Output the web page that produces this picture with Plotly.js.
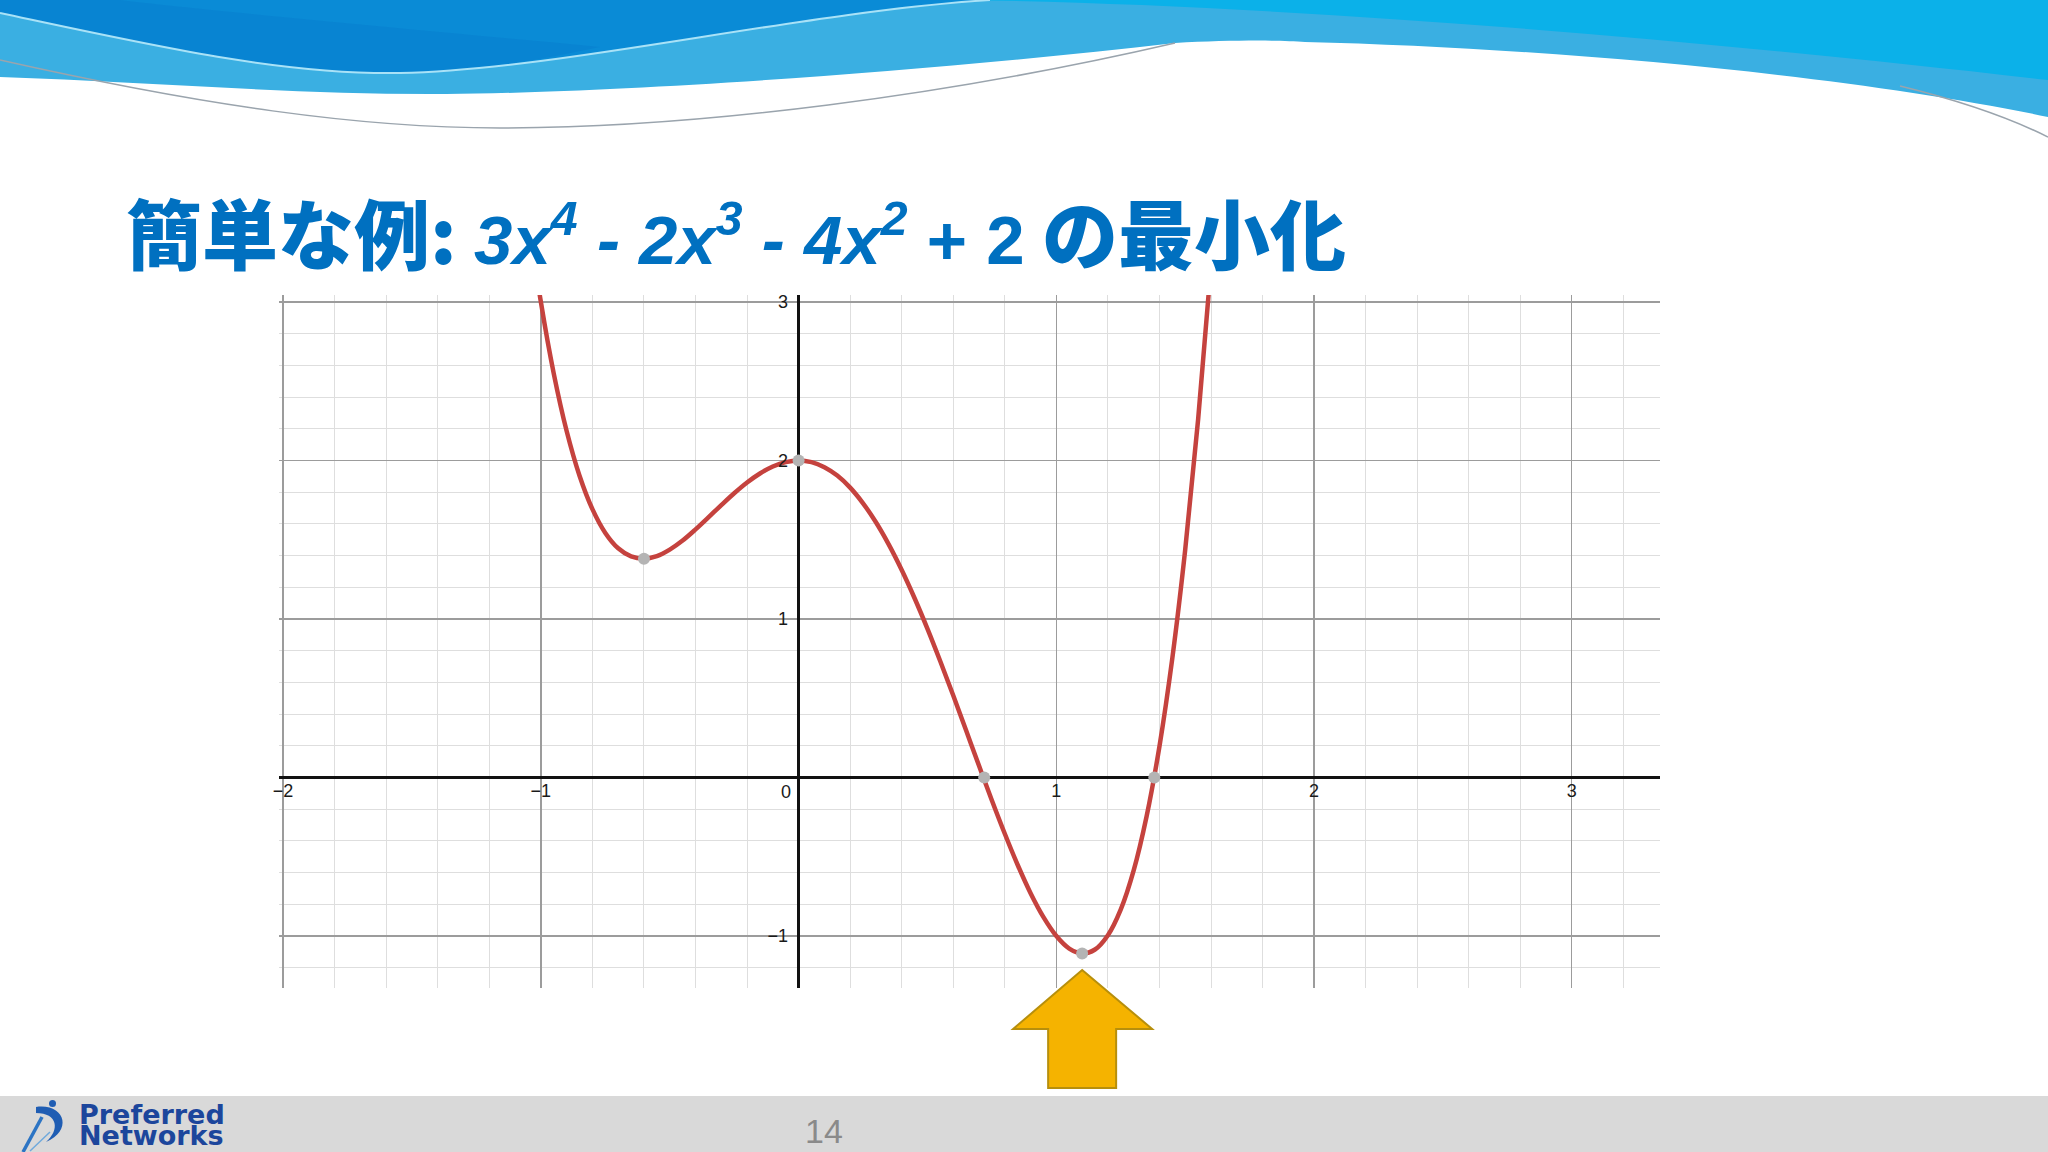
<!DOCTYPE html>
<html><head><meta charset="utf-8">
<script src="https://cdn.plot.ly/plotly-3.0.1.min.js"></script>
<style>html,body{margin:0;padding:0;background:#fff;overflow:hidden}#chart{width:2048px;height:1152px}</style>
</head><body><div id="chart"></div>
<script>
// ---- data ----
const curveX = [-1.05,-1.00,-0.95,-0.90,-0.85,-0.80,-0.75,-0.70,-0.65,-0.60,-0.55,-0.50,-0.45,-0.40,-0.35,-0.30,-0.25,-0.20,-0.15,-0.10,-0.05,0.00,0.05,0.10,0.15,0.20,0.25,0.30,0.35,0.40,0.45,0.50,0.55,0.60,0.65,0.70,0.75,0.80,0.85,0.90,0.95,1.00,1.05,1.10,1.15,1.20,1.25,1.30,1.35,1.40,1.45,1.50,1.55,1.60,1.65];
const curveY = [3.552,3.000,2.548,2.186,1.904,1.693,1.543,1.446,1.395,1.381,1.397,1.438,1.495,1.565,1.641,1.718,1.793,1.861,1.918,1.962,1.990,2.000,1.990,1.958,1.905,1.829,1.730,1.610,1.469,1.309,1.131,0.938,0.732,0.517,0.296,0.074,-0.145,-0.355,-0.552,-0.730,-0.881,-1.000,-1.079,-1.110,-1.085,-0.995,-0.832,-0.586,-0.246,0.197,0.754,1.438,2.258,3.229,4.362];
const pointX = [-0.60, 0.00, 0.72, 1.10, 1.38];
const pointY = [1.38, 2.00, 0.00, -1.11, 0.00];
const xTickVals = [-2, -1, 1, 2, 3];
const xTickText = ['\u22122', '\u22121', '1', '2', '3'];
const yTickVals = [-1, 1, 2, 3];
const yTickText = ['\u22121', '1', '2', '3'];
const originLabel = '0';
const titleText = '簡単な例: <span style="font-family:Liberation Sans,Arial,sans-serif;font-size:69px"><i>3x<sup>4</sup> - 2x<sup>3</sup> - 4x<sup>2</sup></i> + 2</span> の最小化';
const logoLines = ['Preferred', 'Networks'];
const pageNumber = '14';

// ---- geometry ----
const W = 2048, H = 1152;
const M = {l: 279, r: 2048 - 1660, t: 295, b: 1152 - 988, pad: 0};
const PW = W - M.l - M.r, PH = H - M.t - M.b;
const xRange = [-2.016, 3.342], yRange = [-1.328, 3.044];
function px(v) { return (v - M.l) / PW; }
function py(v) { return (H - M.b - v) / PH; }
function pp(s) {
  const tok = s.trim().split(/\s+/); const out = []; let isX = true;
  for (const t of tok) {
    if (/^[A-Za-z]$/.test(t)) { out.push(t); isX = true; }
    else { const v = parseFloat(t); out.push((isX ? px(v) : py(v)).toFixed(5)); isX = !isX; }
  }
  return out.join(' ');
}
function dataXtoPx(x) { return M.l + (x - xRange[0]) / (xRange[1] - xRange[0]) * PW; }

const tickFont = {family: '"Liberation Sans", Arial, sans-serif', size: 18, color: '#1a1a1a'};

const shapes = [];
// header waves
shapes.push({type: 'path', xref: 'paper', yref: 'paper', layer: 'below', line: {width: 0}, fillcolor: '#3aafe2',
  path: pp('M 0 0 L 0 77 C 150 82 300 95 446 94 C 600 93 900 75 1175 43 C 1230 40 1280 40 1305 42 C 1550 48 1850 75 2048 117 L 2048 0 Z')});
shapes.push({type: 'path', xref: 'paper', yref: 'paper', layer: 'below', line: {width: 0}, fillcolor: '#0bb1e9',
  path: pp('M 960 0 C 1300 5 1700 40 2048 80 L 2048 0 Z')});
shapes.push({type: 'path', xref: 'paper', yref: 'paper', layer: 'below', line: {width: 0}, fillcolor: '#0a8bd6',
  path: pp('M 0 0 L 0 13 C 150 45 280 75 400 73 C 560 70 800 12 990 0 Z')});
shapes.push({type: 'path', xref: 'paper', yref: 'paper', layer: 'below', line: {width: 0}, fillcolor: 'rgba(0,80,180,0.12)',
  path: pp('M 0 0 L 0 13 C 150 45 280 75 400 73 C 470 72 540 60 600 47 C 420 30 200 10 120 0 Z')});
shapes.push({type: 'path', xref: 'paper', yref: 'paper', layer: 'below', line: {color: '#a9e2f7', width: 2},
  path: pp('M 0 13 C 150 45 280 75 400 73 C 560 70 800 12 990 0')});
shapes.push({type: 'path', xref: 'paper', yref: 'paper', layer: 'below', line: {color: '#9aa4ad', width: 1.5},
  path: pp('M 0 60 C 200 105 360 128 500 128 C 700 128 950 95 1175 43')});
shapes.push({type: 'path', xref: 'paper', yref: 'paper', layer: 'below', line: {color: '#9aa4ad', width: 1.5},
  path: pp('M 1900 86 Q 1990 108 2048 137')});
// footer bar
shapes.push({type: 'rect', xref: 'paper', yref: 'paper', layer: 'below', line: {width: 0}, fillcolor: '#d9d9d9',
  x0: px(0), x1: px(2048), y0: py(1152), y1: py(1096)});
// logo icon
shapes.push({type: 'path', xref: 'paper', yref: 'paper', layer: 'above', line: {width: 0}, fillcolor: '#1f5db3',
  path: pp('M 36 1107 C 64 1103 74 1130 46 1142 C 60 1130 58 1113 36 1113 Z')});
shapes.push({type: 'path', xref: 'paper', yref: 'paper', layer: 'above', line: {color: '#2c74c4', width: 3.5},
  path: pp('M 23 1152 L 42 1117')});
shapes.push({type: 'path', xref: 'paper', yref: 'paper', layer: 'above', line: {color: '#6fa9dc', width: 1.5},
  path: pp('M 30 1151 L 50 1132')});
shapes.push({type: 'circle', xref: 'paper', yref: 'paper', layer: 'above', line: {width: 0}, fillcolor: '#1f5db3',
  x0: px(49), x1: px(56), y0: py(1107), y1: py(1100)});
// arrow pointing at the minimum
const cx = dataXtoPx(pointX[3]);
shapes.push({type: 'path', xref: 'paper', yref: 'paper', layer: 'above', line: {color: '#b78f0c', width: 2}, fillcolor: '#f5b300',
  path: pp(`M ${cx} 970 L ${cx + 70} 1029 L ${cx + 34} 1029 L ${cx + 34} 1088 L ${cx - 34} 1088 L ${cx - 34} 1029 L ${cx - 69} 1029 Z`)});

const logoFont = {family: '"DejaVu Sans", sans-serif', size: 27, color: '#1c469c', weight: 'bold'};
const annotations = [
  {x: 0, y: 0, xref: 'x', yref: 'y', text: originLabel, showarrow: false, xanchor: 'right', yanchor: 'top', xshift: -6, yshift: -2, font: tickFont},
  {x: px(77), y: py(1132), xref: 'paper', yref: 'paper', text: logoLines[0], showarrow: false, xanchor: 'left', yanchor: 'bottom', font: logoFont},
  {x: px(77), y: py(1153), xref: 'paper', yref: 'paper', text: logoLines[1], showarrow: false, xanchor: 'left', yanchor: 'bottom', font: logoFont},
  {x: px(824), y: py(1131), xref: 'paper', yref: 'paper', text: pageNumber, showarrow: false, xanchor: 'center', yanchor: 'middle',
   font: {family: '"Liberation Sans Narrow", "Liberation Sans", sans-serif', size: 34, color: '#8a8a8a'}}
];

const traces = [
  {type: 'scatter', mode: 'lines', x: curveX, y: curveY, line: {color: '#c5423e', width: 4.5, shape: 'spline', smoothing: 1}, hoverinfo: 'skip'},
  {type: 'scatter', mode: 'markers', x: pointX, y: pointY, marker: {size: 12, color: '#b4b4b4'}, cliponaxis: false, hoverinfo: 'skip'}
];

const layout = {
  width: W, height: H, margin: M, paper_bgcolor: '#ffffff', plot_bgcolor: '#ffffff', showlegend: false,
  title: {text: titleText, x: 126 / W, xanchor: 'left', xref: 'container', y: 1 - 237 / H, yref: 'container', yanchor: 'middle', pad: {l: 0, r: 0, t: 0, b: 0},
    font: {family: '"Noto Sans CJK JP", sans-serif', size: 76, color: '#0070c0', weight: 900}},
  xaxis: {range: xRange, anchor: 'free', position: (0 - yRange[0]) / (yRange[1] - yRange[0]),
    tickmode: 'array', tickvals: xTickVals, ticktext: xTickText, tickfont: tickFont,
    ticks: '',
    showgrid: true, gridcolor: '#9c9c9c', gridwidth: 1.3, showline: false,
    zeroline: true, zerolinecolor: '#111111', zerolinewidth: 2.5,
    minor: {tickmode: 'linear', tick0: 0, dtick: 0.2, showgrid: true, gridcolor: '#dedede', gridwidth: 1, ticks: ''},
    fixedrange: true},
  yaxis: {range: yRange, anchor: 'free', position: (0 - xRange[0]) / (xRange[1] - xRange[0]),
    tickmode: 'array', tickvals: yTickVals, ticktext: yTickText, tickfont: tickFont,
    ticks: 'outside', ticklen: 7, tickcolor: 'rgba(0,0,0,0)',
    showgrid: true, gridcolor: '#9c9c9c', gridwidth: 1.3, showline: false,
    zeroline: true, zerolinecolor: '#111111', zerolinewidth: 2.5,
    minor: {tickmode: 'linear', tick0: 0, dtick: 0.2, showgrid: true, gridcolor: '#dedede', gridwidth: 1, ticks: ''},
    fixedrange: true},
  shapes: shapes,
  annotations: annotations
};

Plotly.newPlot('chart', traces, layout, {displayModeBar: false, staticPlot: true});
</script>
</body></html>
